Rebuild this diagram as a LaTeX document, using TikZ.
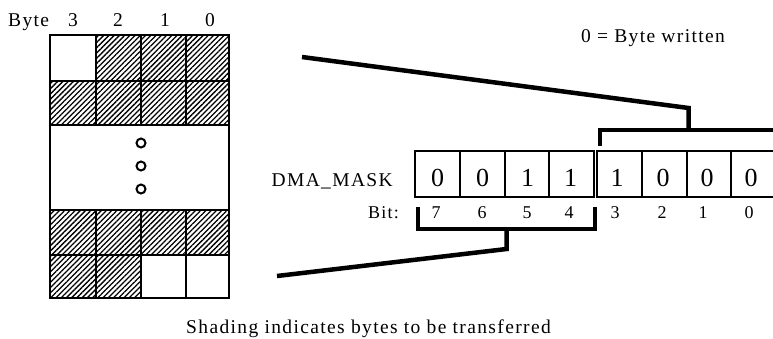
\documentclass[tikz,border=0pt]{standalone}
\usepackage{fontspec}
\setmainfont{Liberation Serif}[LetterSpace=7]
\usetikzlibrary{patterns.meta}
\begin{document}
\begin{tikzpicture}[x=1pt,y=-1pt,
  lbl/.style={inner sep=0pt, anchor=base, font=\fontsize{19.5}{20}\selectfont},
  bitnum/.style={inner sep=0pt, anchor=base, font=\fontsize{18}{18}\selectfont},
  regdig/.style={inner sep=0pt, anchor=base, font=\fontsize{26}{26}\selectfont},
  cellline/.style={line width=2pt},
  hatch/.style={pattern={Lines[angle=45,distance=3.7pt,line width=1.3pt]}},
  bracket/.style={line width=4.5pt, line join=miter},
  dotc/.style={circle, draw, line width=2pt, minimum size=9pt, inner sep=0pt}
]
\useasboundingbox (0,0) rectangle (773,338);
\clip (0,0) rectangle (773,338);

% ---- byte grid ----
\fill[hatch] (96,35) rectangle (229,81);
\fill[hatch] (50,81) rectangle (229,125);
\fill[hatch] (50,210) rectangle (229,255);
\fill[hatch] (50,255) rectangle (141,298);
\draw[cellline] (50,35) rectangle (229,298);
\foreach \yy in {81,125,210,255} \draw[cellline] (50,\yy) -- (229,\yy);
\foreach \xx in {96,141,186} {
  \draw[cellline] (\xx,35) -- (\xx,125);
  \draw[cellline] (\xx,210) -- (\xx,298);
}
\node[dotc] (d1) at (141,143) {};
\node[dotc] (d2) at (141,166) {};
\node[dotc] (d3) at (141,189) {};

\node[lbl, anchor=base west] (byte) at (8,26) {Byte};
\node[lbl] (b3) at (73,26) {3};
\node[lbl] (b2) at (118,26) {2};
\node[lbl] (b1) at (165,26) {1};
\node[lbl] (b0) at (210,26) {0};

% ---- register ----
\foreach \i in {0,1,2,3} {
  \draw[cellline] (415+\i*44.75,151) rectangle (415+\i*44.75+44.75,196.5);
  \draw[cellline] (597+\i*44.75,151) rectangle (597+\i*44.75+44.75,196.5);
}
\node[lbl, anchor=base east] (dma) at (393,186) {DMA\_MASK};
\node[regdig] (r7) at (437.5,186) {0};
\node[regdig] (r6) at (482.5,186) {0};
\node[regdig] (r5) at (527.5,186) {1};
\node[regdig] (r4) at (570.5,186) {1};
\node[regdig] (r3) at (617,186) {1};
\node[regdig] (r2) at (663,186) {0};
\node[regdig] (r1) at (707,186) {0};
\node[regdig] (r0) at (751,186) {0};

\node[bitnum, anchor=base east] (bit) at (399,218) {Bit:};
\node[bitnum] (n7) at (436,218) {7};
\node[bitnum] (n6) at (482,218) {6};
\node[bitnum] (n5) at (527,218) {5};
\node[bitnum] (n4) at (569,218) {4};
\node[bitnum] (n3) at (615,218) {3};
\node[bitnum] (n2) at (662,218) {2};
\node[bitnum] (n1) at (703,218) {1};
\node[bitnum] (n0) at (749,218) {0};

% ---- brackets ----
\coordinate (ua) at (600,146);
\coordinate (ub) at (600,130);
\coordinate (uc) at (777,130);
\coordinate (ud) at (777,146);
\coordinate (us) at (688.5,130);
\coordinate (ut) at (688.5,108);
\coordinate (ue) at (302,57);
\draw[bracket] (ua) -- (ub) -- (uc) -- (ud);
\draw[bracket] (us) -- (ut) -- (ue);

\coordinate (la) at (418,207);
\coordinate (lb) at (418,229);
\coordinate (lc) at (595,229);
\coordinate (ld) at (595,207);
\coordinate (ls) at (506.5,229);
\coordinate (lt) at (506.5,249);
\coordinate (le) at (277,276);
\draw[bracket] (la) -- (lb) -- (lc) -- (ld);
\draw[bracket] (ls) -- (lt) -- (le);

\node[lbl] (legend) at (653,42.5) {0 = Byte written};
\node[lbl] (caption) at (368.5,333) {Shading indicates bytes to be transferred};
\end{tikzpicture}
\end{document}
